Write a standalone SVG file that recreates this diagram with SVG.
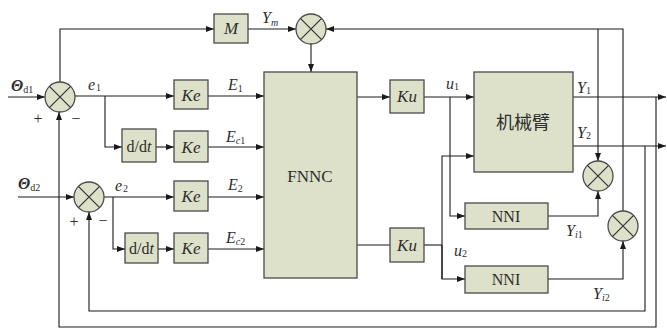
<svg xmlns="http://www.w3.org/2000/svg" xmlns:xlink="http://www.w3.org/1999/xlink" width="667" height="330" viewBox="0 0 667 330">
<style>
.box{fill:#dde1c9;stroke:#4a4a4a;stroke-width:1.3}
.wire{fill:none;stroke:#1a1a1a;stroke-width:1.1}
.arr{marker-end:url(#ah)}
text{font-family:'Liberation Serif','Times New Roman','DejaVu Serif',serif;fill:#2e2e2e}
.t{text-anchor:middle}
.it{font-style:italic}
.lab{font-style:italic;font-size:16px}
.sub{font-size:10px;font-style:normal;font-weight:normal}
.si{font-style:italic}
.th{font-weight:bold}
.cjk{font-family:'Noto Sans CJK SC',sans-serif;text-anchor:middle;font-size:18px}
</style>
<defs>
<marker id="ah" viewBox="0 0 8 6" refX="8" refY="3" markerWidth="8" markerHeight="6" markerUnits="userSpaceOnUse" orient="auto">
<path d="M0,0 L8,3 L0,6 z" fill="#1a1a1a"/>
</marker>
<g id="sumj">
<circle r="15" class="box"/>
<path d="M-10.6,-10.6 L10.6,10.6 M-10.6,10.6 L10.6,-10.6" stroke="#333" stroke-width="1.2"/>
</g>
</defs>

<g id="connectors">
<path class="wire arr" d="M8,97 H45"/>
<path class="wire arr" d="M18,197 H74"/>
<path class="wire arr" d="M60,82 V29 H214"/>
<path class="wire arr" d="M248,29 H296"/>
<path class="wire arr" d="M311,44 V72"/>
<path class="wire arr" d="M75,96 H174"/>
<path class="wire arr" d="M105,96 V147 H122"/>
<path class="wire arr" d="M156,147 H174"/>
<path class="wire arr" d="M208,96 H264"/>
<path class="wire arr" d="M208,147 H264"/>
<path class="wire arr" d="M104,197 H174"/>
<path class="wire arr" d="M113,197 V249 H125"/>
<path class="wire arr" d="M158,249 H174"/>
<path class="wire arr" d="M208,197 H264"/>
<path class="wire arr" d="M208,249 H264"/>
<path class="wire arr" d="M357,97 H390"/>
<path class="wire" d="M357,245 H390"/>
<path class="wire arr" d="M424,97 H474"/>
<path class="wire arr" d="M450,97 V216 H465"/>
<path class="wire" d="M424,245 H442"/>
<path class="wire arr" d="M442,279 V156 H474"/>
<path class="wire arr" d="M442,245 V279 H465"/>
<path class="wire arr" d="M573,97 H666"/>
<path class="wire arr" d="M573,146 H666"/>
<path class="wire arr" d="M548,216 H598 V191"/>
<path class="wire arr" d="M548,279 H623 V241"/>
<path class="wire arr" d="M623,211 V29 H326"/>
<path class="wire arr" d="M598,29 V161"/>
<path class="wire arr" d="M656,97 V327 H59 V112"/>
<path class="wire arr" d="M645,146 V311 H89 V212"/>
</g>

<g id="sum1"><use xlink:href="#sumj" x="60" y="97"/></g>
<g id="sum2"><use xlink:href="#sumj" x="89" y="197"/></g>
<g id="sumM"><use xlink:href="#sumj" x="311" y="29"/></g>
<g id="sumY1"><use xlink:href="#sumj" x="598" y="176"/></g>
<g id="sumY2"><use xlink:href="#sumj" x="623" y="226"/></g>

<g id="M"><rect class="box" x="214" y="14" width="34" height="29"/><text class="t it" x="231" y="34" font-size="17">M</text></g>
<g id="Ke1"><rect class="box" x="174" y="80" width="34" height="29"/><text class="t it" x="191" y="101" font-size="17">Ke</text></g>
<g id="ddt1"><rect class="box" x="122" y="129" width="34" height="33"/><text class="t" x="139" y="152" font-size="16">d/d<tspan class="si">t</tspan></text></g>
<g id="Ke2"><rect class="box" x="174" y="131" width="34" height="31"/><text class="t it" x="191" y="153" font-size="17">Ke</text></g>
<g id="Ke3"><rect class="box" x="174" y="181" width="34" height="30"/><text class="t it" x="191" y="202" font-size="17">Ke</text></g>
<g id="ddt2"><rect class="box" x="125" y="233" width="33" height="30"/><text class="t" x="141.5" y="254" font-size="16">d/d<tspan class="si">t</tspan></text></g>
<g id="Ke4"><rect class="box" x="174" y="233" width="34" height="30"/><text class="t it" x="191" y="254" font-size="17">Ke</text></g>
<g id="FNNC"><rect class="box" x="264" y="72" width="93" height="206"/><text class="t" x="310" y="182" font-size="17">FNNC</text></g>
<g id="Ku1"><rect class="box" x="390" y="80" width="34" height="33"/><text class="t it" x="407" y="102" font-size="17">Ku</text></g>
<g id="Ku2"><rect class="box" x="390" y="228" width="34" height="34"/><text class="t it" x="407" y="251" font-size="17">Ku</text></g>
<g id="arm"><rect class="box" x="474" y="72" width="99" height="100"/><text class="cjk" x="523" y="129">机械臂</text></g>
<g id="NNI1"><rect class="box" x="465" y="203" width="83" height="26"/><text class="t" x="506" y="222" font-size="16">NNI</text></g>
<g id="NNI2"><rect class="box" x="465" y="266" width="83" height="27"/><text class="t" x="506" y="285" font-size="16">NNI</text></g>

<g id="labels">
<text class="lab" x="11" y="91" font-size="18"><tspan class="th">Θ</tspan><tspan class="sub" dy="2">d1</tspan></text>
<text class="lab" x="18" y="189" font-size="18"><tspan class="th">Θ</tspan><tspan class="sub" dy="2">d2</tspan></text>
<text class="t" x="38" y="124" font-size="16">+</text>
<text class="t" x="76" y="124" font-size="16">−</text>
<text class="t" x="74" y="227" font-size="16">+</text>
<text class="t" x="103" y="226" font-size="16">−</text>
<text class="lab" x="88" y="90">e<tspan class="sub" dx="1" dy="1">1</tspan></text>
<text class="lab" x="115" y="191">e<tspan class="sub" dx="1" dy="1">2</tspan></text>
<text class="lab" x="262" y="23">Y<tspan class="sub si" font-size="8" dy="3">m</tspan></text>
<text class="lab" x="228" y="90">E<tspan class="sub" dy="2">1</tspan></text>
<text class="lab" x="226" y="142">E<tspan class="sub" dy="2"><tspan class="si">c</tspan>1</tspan></text>
<text class="lab" x="228" y="190">E<tspan class="sub" dy="2">2</tspan></text>
<text class="lab" x="226" y="243">E<tspan class="sub" dy="2"><tspan class="si">c</tspan>2</tspan></text>
<text class="lab" x="446" y="89">u<tspan class="sub" dy="1">1</tspan></text>
<text class="lab" x="454" y="256">u<tspan class="sub" dy="1">2</tspan></text>
<text class="lab" x="577" y="93">Y<tspan class="sub" dy="1">1</tspan></text>
<text class="lab" x="577" y="138">Y<tspan class="sub" dy="1">2</tspan></text>
<text class="lab" x="566" y="236">Y<tspan class="sub" dy="2"><tspan class="si">i</tspan>1</tspan></text>
<text class="lab" x="593" y="299">Y<tspan class="sub" dy="2"><tspan class="si">i</tspan>2</tspan></text>
</g>
</svg>
